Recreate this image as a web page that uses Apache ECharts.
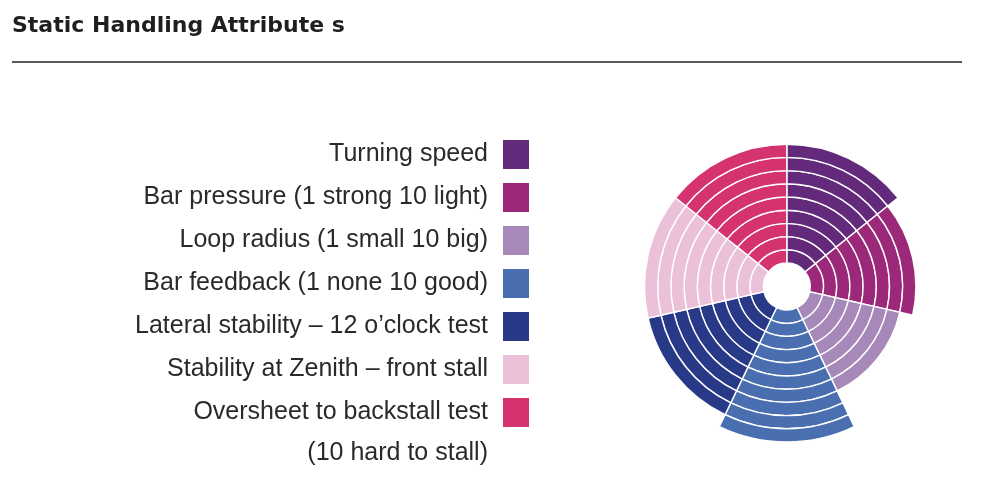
<!DOCTYPE html>
<html>
<head>
<meta charset="utf-8">
<script src="https://cdn.jsdelivr.net/npm/echarts@6/dist/echarts.min.js"></script>
<style>
  html, body { margin: 0; padding: 0; background: #fff; }
  #chart { width: 1000px; height: 482px; }
</style>
</head>
<body>
<div id="chart"></div>
<script>
// ---- data ----
const categories = [
  'Turning speed',
  'Bar pressure (1 strong 10 light)',
  'Loop radius (1 small 10 big)',
  'Bar feedback (1 none 10 good)',
  'Lateral stability \u2013 12 o\u2019clock test',
  'Stability at Zenith \u2013 front stall',
  'Oversheet to backstall test'
];
const values = [9, 8, 7, 10, 9, 9, 9];
const colors = ['#63297a', '#9b2878', '#a689b8', '#4a6fb1', '#283a87', '#ebc0d9', '#d5336f'];
const maxScore = 10;
const titleText = 'Static Handling Attribute s';
const footnote = '(10 hard to stall)';

// ---- build series: one stacked ring layer per score unit ----
const series = [];
for (let k = 0; k < maxScore; k++) {
  series.push({
    type: 'bar',
    name: 'ring' + (k + 1),
    coordinateSystem: 'polar',
    stack: 'rings',
    barCategoryGap: '0%',
    silent: true,
    itemStyle: { borderColor: '#ffffff', borderWidth: 1.4 },
    data: categories.map((c, i) => values[i] > k
      ? { value: 1, itemStyle: { color: colors[i] } }
      : '-')
  });
}
// legend-only series (empty), same stack so they don't take room
categories.forEach((c, i) => {
  series.push({
    type: 'bar',
    name: c,
    coordinateSystem: 'polar',
    stack: 'rings',
    itemStyle: { color: colors[i] },
    data: []
  });
});

const chart = echarts.init(document.getElementById('chart'), null, { renderer: 'canvas' });
chart.setOption({
  animation: false,
  backgroundColor: '#ffffff',
  title: {
    text: titleText,
    left: 12,
    top: 15,
    padding: 0,
    textStyle: {
      fontFamily: 'DejaVu Sans',
      fontWeight: 'bold',
      fontSize: 22,
      color: '#1f1f1f'
    }
  },
  legend: {
    orient: 'vertical',
    align: 'right',
    right: 471,
    top: 140,
    padding: 0,
    icon: 'rect',
    itemWidth: 26,
    itemHeight: 29,
    itemGap: 14,
    selectedMode: false,
    data: categories,
    textStyle: {
      fontFamily: 'Liberation Sans',
      fontSize: 25,
      color: '#2a2a2a',
      padding: [0, 10, 0, 0]
    }
  },
  polar: {
    center: [786.8, 286.5],
    radius: [23.5, 155.5]
  },
  angleAxis: {
    type: 'category',
    data: categories,
    startAngle: 90,
    clockwise: true,
    show: false
  },
  radiusAxis: {
    type: 'value',
    min: 0,
    max: maxScore,
    show: false
  },
  graphic: [
    {
      type: 'line',
      shape: { x1: 12, y1: 62, x2: 962, y2: 62 },
      style: { stroke: '#222222', lineWidth: 1.5 }
    },
    {
      type: 'text',
      x: 488,
      y: 453,
      style: {
        text: footnote,
        fontFamily: 'Liberation Sans',
        fontSize: 25,
        fill: '#2a2a2a',
        textAlign: 'right',
        textVerticalAlign: 'middle'
      }
    }
  ],
  series: series
});
</script>
</body>
</html>
